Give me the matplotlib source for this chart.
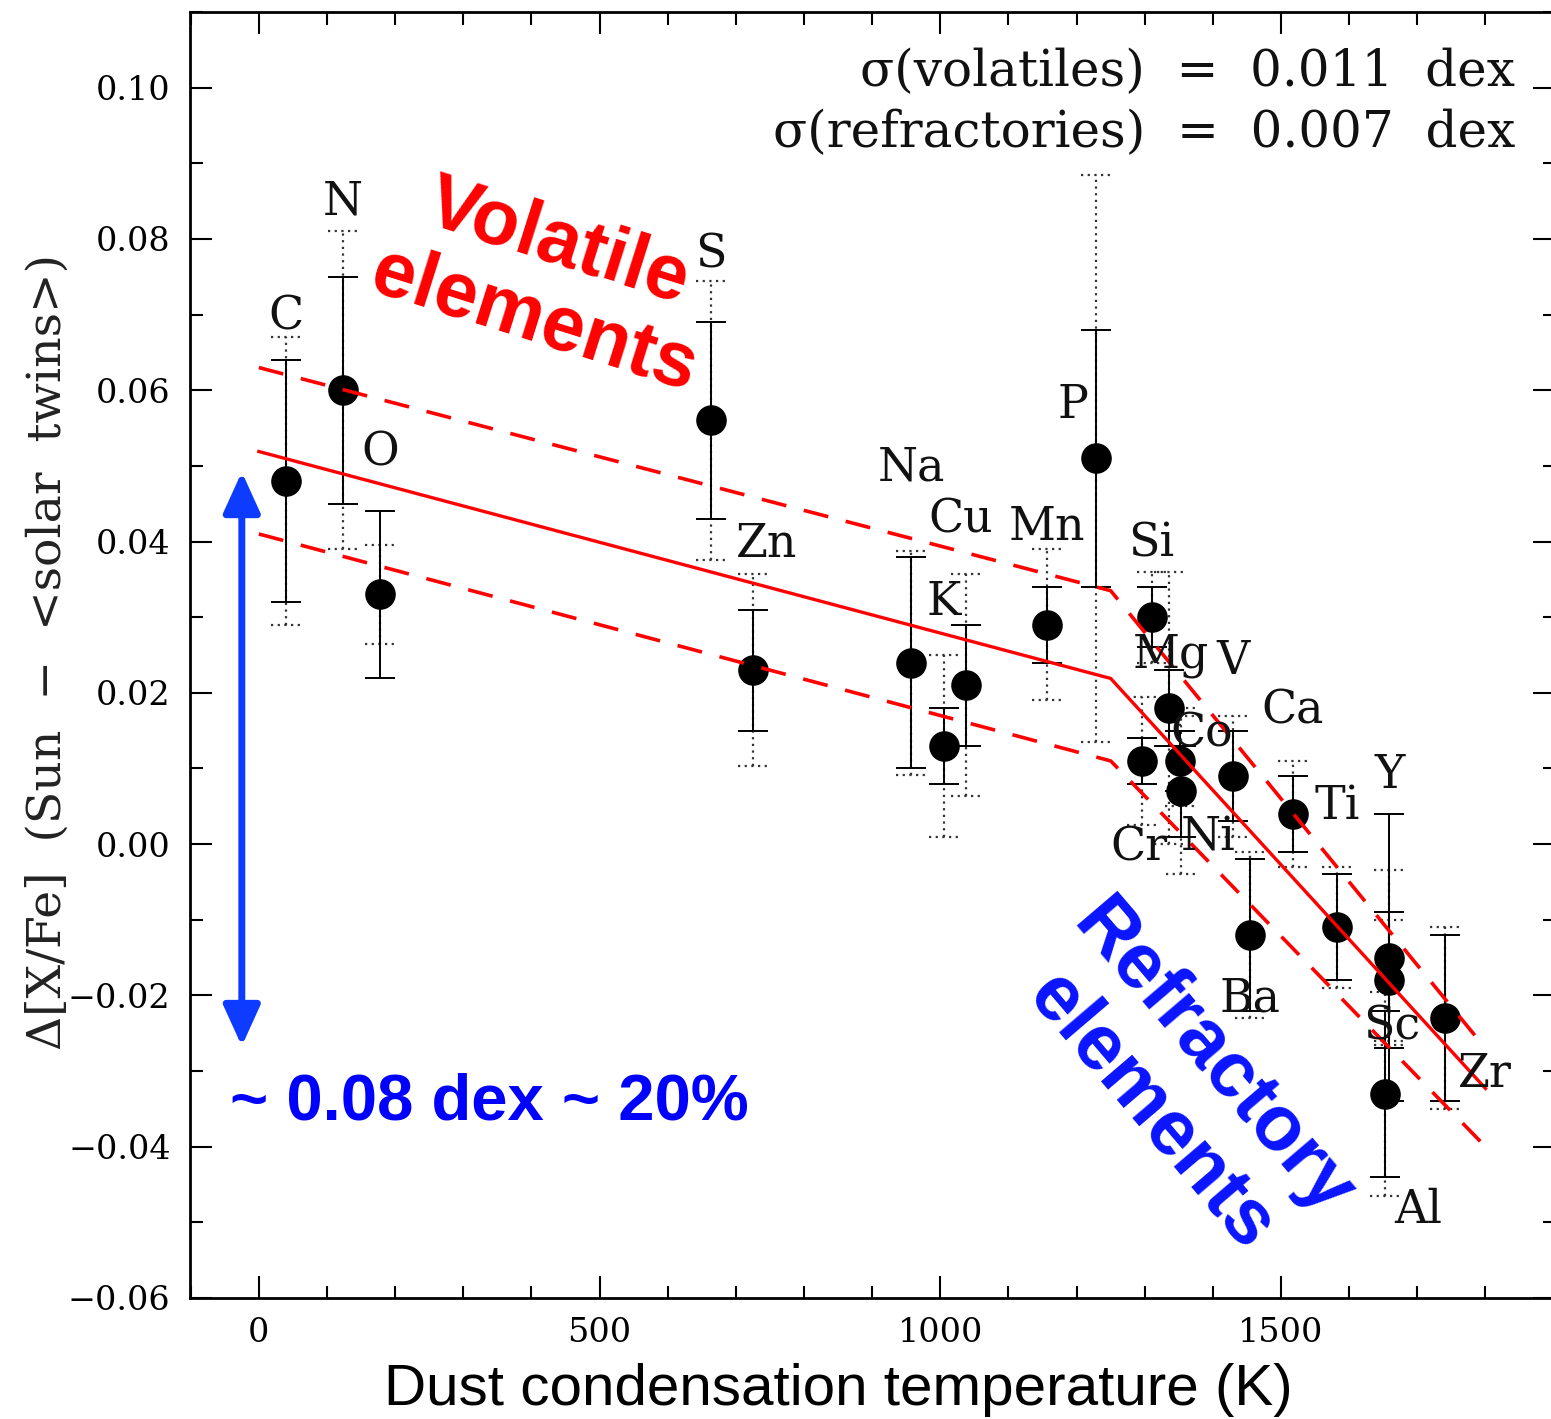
import numpy as np
import matplotlib.pyplot as plt
from matplotlib.ticker import MultipleLocator

# element abundance differences vs condensation temperature
elements = ['C', 'N', 'O', 'S', 'Zn', 'Na', 'K', 'Cu', 'Mn', 'P', 'Si', 'Mg',
            'Cr', 'Co', 'Ni', 'V', 'Ca', 'Ba', 'Ti', 'Y', 'Sc', 'Al', 'Zr']
tcond = [40, 123, 178, 664, 725, 957, 1005, 1038, 1157, 1228, 1310, 1336,
         1296, 1352, 1353, 1429, 1517, 1455, 1582, 1659, 1659, 1653, 1741]
abund = [0.048, 0.060, 0.033, 0.056, 0.023, 0.024, 0.013, 0.021, 0.029, 0.051, 0.030, 0.018,
         0.011, 0.011, 0.007, 0.009, 0.004, -0.012, -0.011, -0.015, -0.018, -0.033, -0.023]
err_solid = [0.016, 0.015, 0.011, 0.013, 0.008, 0.014, 0.005, 0.008, 0.005, 0.017, 0.004, 0.005,
             0.003, 0.004, 0.006, 0.006, 0.005, 0.010, 0.007, 0.019, 0.009, 0.011, 0.011]
err_dotted = [0.019, 0.021, 0.0065, 0.0185, 0.0127, 0.0148, 0.012, 0.0147, 0.010, 0.0375, 0.006, 0.018,
              0.0085, 0.006, 0.011, 0.008, 0.007, 0.011, 0.008, 0.0116, 0.008, 0.0135, 0.012]

# fitted trend (two segments) and its +/- sigma envelopes
fit_t = [0, 1250, 1800]
fit_mid = [0.0519, 0.0219, -0.0323]
fit_up = [0.063, 0.0335, -0.027]
fit_lo = [0.041, 0.011, -0.040]

# label offsets from each point, in pixels (dx, dy)
label_off = {'C': (0, 164), 'N': (0, 188), 'O': (0, 142), 'S': (0, 166), 'Zn': (14, 126),
             'Na': (0, 195), 'K': (0, 143), 'Cu': (-6, 165), 'Mn': (0, 97), 'P': (-23, 53),
             'Si': (0, 73), 'Mg': (2, 53), 'Cr': (-3, -87), 'Co': (22, 27), 'Ni': (27, -47),
             'V': (0, 115), 'Ca': (0, 103), 'Ba': (0, -64), 'Ti': (0, 121), 'Y': (0, 182),
             'Sc': (2, -47), 'Al': (33, -117), 'Zr': (40, -56)}

serif = 'DejaVu Serif'
sans = 'Liberation Sans'

fig = plt.figure(figsize=(15.51, 14.19), dpi=100)
ax = fig.add_axes([190/1551, 121/1419, 1365/1551, 1286/1419])

t = np.array(tcond)
a = np.array(abund)
es = np.array(err_solid)
ed = np.array(err_dotted)

# dotted error bars
ax.vlines(t, a - ed, a + ed, colors='#333333', linestyles=(0, (1, 2)), lw=1.6, zorder=2)
for y in (a - ed, a + ed):
    ax.hlines(y, t - 22, t + 22, colors='#333333', linestyles=(0, (1, 2)), lw=1.6, zorder=2)

# solid error bars and points
ax.errorbar(t, a, yerr=es, fmt='none', ecolor='black', elinewidth=1.4,
            capsize=11, capthick=1.4, zorder=3)
ax.plot(t, a, 'o', color='black', ms=21, zorder=4)

# trend lines
ax.plot(fit_t, fit_mid, color='#ff0000', lw=2.4, zorder=5)
ax.plot(fit_t, fit_up, color='#ff0000', lw=2.6, ls=(0, (7, 5)), zorder=5)
ax.plot(fit_t, fit_lo, color='#ff0000', lw=2.6, ls=(0, (7, 5)), zorder=5)

for el, x, y in zip(elements, tcond, abund):
    dx, dy = label_off[el]
    ax.annotate(el, (x, y), xytext=(dx*0.72, dy*0.72), textcoords='offset points',
                ha='center', va='center', fontsize=33, family=serif, color='#111111', zorder=6)

ax.set_xlim(-101, 1902)
ax.set_ylim(-0.06, 0.11)
ax.xaxis.set_major_locator(MultipleLocator(500))
ax.xaxis.set_minor_locator(MultipleLocator(100))
ax.yaxis.set_minor_locator(MultipleLocator(0.01))
ax.set_yticks(np.arange(-0.06, 0.101, 0.02))
ax.set_yticklabels(['\u22120.06', '\u22120.04', '\u22120.02', '0.00', '0.02', '0.04', '0.06', '0.08', '0.10'])
ax.tick_params(which='both', direction='in', top=True, right=True, width=1.5)
ax.tick_params(which='major', length=16, pad=14, labelsize=24)
ax.tick_params(which='minor', length=9)
for lab in ax.get_xticklabels() + ax.get_yticklabels():
    lab.set_family(serif)
for sp in ax.spines.values():
    sp.set_linewidth(2)

fig.text(838/1551, 1 - 1390/1419, 'Dust condensation temperature (K)', ha='center', va='center',
         fontsize=42, family=sans)
fig.text(48/1551, 1 - 652/1419, '\u0394[X/Fe]  (Sun  \u2212  <solar  twins>)', rotation=90,
         ha='center', va='center', fontsize=34, family=serif, color='#222222')

# sigma annotations
fig.text(1515/1551, 1 - 72/1419, '\u03c3(volatiles)  =  0.011  dex', ha='right', va='center',
         fontsize=36, family=serif, color='#111111')
fig.text(1515/1551, 1 - 133/1419, '\u03c3(refractories)  =  0.007  dex', ha='right', va='center',
         fontsize=36, family=serif, color='#111111')

# slide annotations
fig.text(546/1551, 1 - 282/1419, 'Volatile\nelements', rotation=-17.5, ha='center', va='center',
         multialignment='center', fontsize=56, fontweight='bold', family=sans, color='#ff0000',
         linespacing=1.15, rotation_mode='anchor')
fig.text(1182/1551, 1 - 1086/1419, 'Refractory\nelements', rotation=-49.5, ha='center', va='center',
         multialignment='center', fontsize=56, fontweight='bold', family=sans, color='#0a14ff',
         linespacing=1.15, rotation_mode='anchor')
fig.text(230/1551, 1 - 1102/1419, '~ 0.08 dex ~ 20%', ha='left', va='center',
         fontsize=47, fontweight='bold', family=sans, color='#0000ff')

ax.annotate('', xy=(-25, 0.0492), xytext=(-25, -0.0267),
            arrowprops=dict(arrowstyle='<|-|>,head_length=0.55,head_width=0.25', color='#0d3bff',
                            lw=5, shrinkA=0, shrinkB=0, mutation_scale=45))

fig.savefig('out.png', dpi=100)
